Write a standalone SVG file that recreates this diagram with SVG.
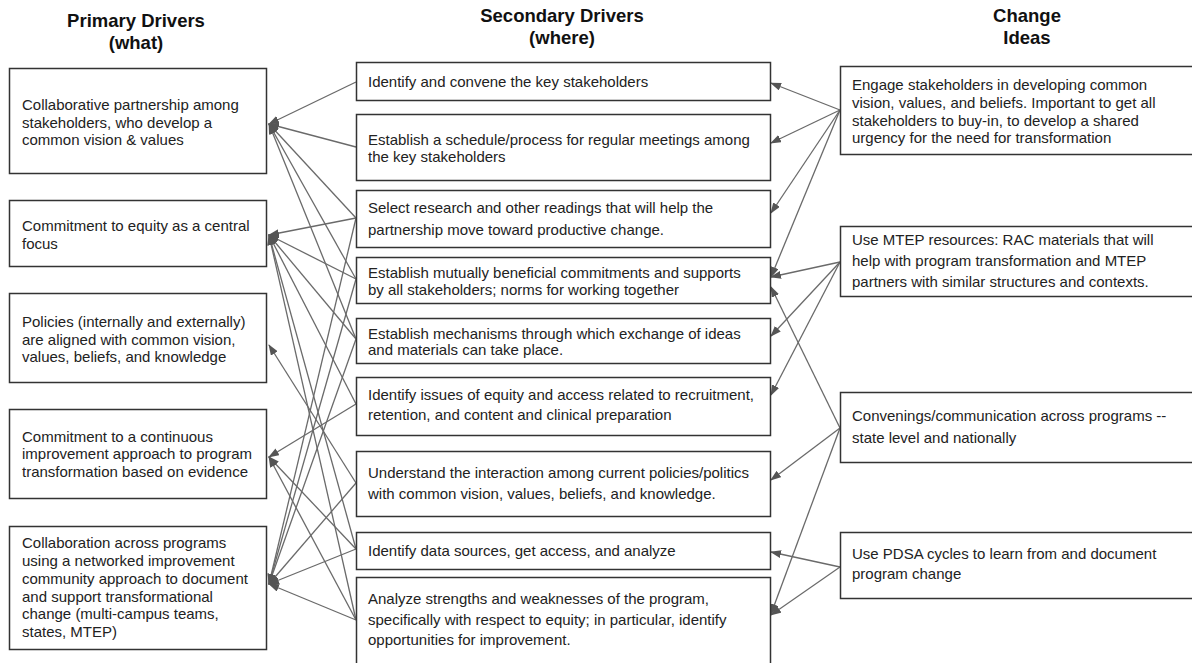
<svg xmlns="http://www.w3.org/2000/svg" width="1192" height="663" viewBox="0 0 1192 663">
<defs>
<marker id="ah" markerUnits="userSpaceOnUse" markerWidth="11" markerHeight="8" refX="10" refY="4" orient="auto">
<path d="M0,0 L11,4 L0,8 z" fill="#555"/>
</marker>
<style>
.box{fill:#fff;stroke:#333;stroke-width:1.5}
.t{font-family:"Liberation Sans",Arial,sans-serif;font-size:15px;fill:#222}
.h{font-family:"Liberation Sans",Arial,sans-serif;font-size:18.5px;font-weight:bold;fill:#111;text-anchor:middle}
.c{stroke:#6a6a6a;stroke-width:1.3;fill:none;marker-end:url(#ah)}
</style>
</defs>
<rect width="1192" height="663" fill="#fff"/>

<g id="headers">
<text class="h" x="136" y="27">Primary Drivers</text>
<text class="h" x="136" y="49">(what)</text>
<text class="h" x="562" y="22">Secondary Drivers</text>
<text class="h" x="562" y="44">(where)</text>
<text class="h" x="1027" y="22">Change</text>
<text class="h" x="1027" y="44">Ideas</text>
</g>

<g id="connectors">
<!-- to L1 -->
<line class="c" x1="356" y1="82" x2="269" y2="124"/>
<line class="c" x1="356" y1="147" x2="269" y2="124"/>
<line class="c" x1="356" y1="218" x2="269" y2="124"/>
<line class="c" x1="356" y1="279" x2="269" y2="124"/>
<line class="c" x1="356" y1="339" x2="269" y2="124"/>
<!-- to L2 -->
<line class="c" x1="356" y1="218" x2="269" y2="235"/>
<line class="c" x1="356" y1="279" x2="269" y2="235"/>
<line class="c" x1="356" y1="339" x2="269" y2="235"/>
<line class="c" x1="356" y1="404" x2="269" y2="235"/>
<line class="c" x1="356" y1="549" x2="269" y2="235"/>
<line class="c" x1="356" y1="620" x2="269" y2="235"/>
<!-- to L3 -->
<line class="c" x1="356" y1="483" x2="269" y2="345"/>
<!-- to L4 -->
<line class="c" x1="356" y1="404" x2="269" y2="457"/>
<line class="c" x1="356" y1="549" x2="269" y2="457"/>
<line class="c" x1="356" y1="620" x2="269" y2="457"/>
<!-- to L5 -->
<line class="c" x1="356" y1="218" x2="269" y2="584"/>
<line class="c" x1="356" y1="279" x2="269" y2="584"/>
<line class="c" x1="356" y1="339" x2="269" y2="584"/>
<line class="c" x1="356" y1="483" x2="269" y2="584"/>
<line class="c" x1="356" y1="549" x2="269" y2="584"/>
<line class="c" x1="356" y1="620" x2="269" y2="584"/>
<!-- right side -->
<line class="c" x1="840" y1="110" x2="771" y2="83"/>
<line class="c" x1="840" y1="110" x2="771" y2="143"/>
<line class="c" x1="840" y1="110" x2="771" y2="213"/>
<line class="c" x1="840" y1="110" x2="771" y2="277"/>
<line class="c" x1="840" y1="262" x2="771" y2="277"/>
<line class="c" x1="840" y1="262" x2="771" y2="336"/>
<line class="c" x1="840" y1="262" x2="771" y2="395"/>
<line class="c" x1="840" y1="428" x2="771" y2="287"/>
<line class="c" x1="840" y1="428" x2="771" y2="480"/>
<line class="c" x1="840" y1="428" x2="771" y2="614"/>
<line class="c" x1="840" y1="567" x2="771" y2="552"/>
<line class="c" x1="840" y1="567" x2="771" y2="615"/>
</g>

<g id="L1"><rect class="box" x="9.5" y="68.5" width="257" height="105"/>
<text class="t" x="22" y="110">Collaborative partnership among</text>
<text class="t" x="22" y="127.5">stakeholders, who develop a</text>
<text class="t" x="22" y="145">common vision &amp; values</text></g>

<g id="L2"><rect class="box" x="9.5" y="200.5" width="257" height="66"/>
<text class="t" x="22" y="231">Commitment to equity as a central</text>
<text class="t" x="22" y="248.5">focus</text></g>

<g id="L3"><rect class="box" x="9.5" y="293.5" width="257" height="89"/>
<text class="t" x="22" y="327">Policies (internally and externally)</text>
<text class="t" x="22" y="344.5">are aligned with common vision,</text>
<text class="t" x="22" y="362">values, beliefs, and knowledge</text></g>

<g id="L4"><rect class="box" x="9.5" y="409.5" width="257" height="89"/>
<text class="t" x="22" y="441.5">Commitment to a continuous</text>
<text class="t" x="22" y="459">improvement approach to program</text>
<text class="t" x="22" y="477">transformation based on evidence</text></g>

<g id="L5"><rect class="box" x="9.5" y="526.5" width="257" height="123"/>
<text class="t" x="22" y="548">Collaboration across programs</text>
<text class="t" x="22" y="566">using a networked improvement</text>
<text class="t" x="22" y="584">community approach to document</text>
<text class="t" x="22" y="601.5">and support transformational</text>
<text class="t" x="22" y="619">change (multi-campus teams,</text>
<text class="t" x="22" y="637">states, MTEP)</text></g>

<g id="M1"><rect class="box" x="356.5" y="62.5" width="414" height="38"/>
<text class="t" x="368" y="87">Identify and convene the key stakeholders</text></g>

<g id="M2"><rect class="box" x="356.5" y="114.5" width="414" height="66"/>
<text class="t" x="368" y="145">Establish a schedule/process for regular meetings among</text>
<text class="t" x="368" y="162">the key stakeholders</text></g>

<g id="M3"><rect class="box" x="356.5" y="190.5" width="414" height="57"/>
<text class="t" x="368" y="213">Select research and other readings that will help the</text>
<text class="t" x="368" y="235">partnership move toward productive change.</text></g>

<g id="M4"><rect class="box" x="356.5" y="257.5" width="414" height="46"/>
<text class="t" x="368" y="278">Establish mutually beneficial commitments and supports</text>
<text class="t" x="368" y="295">by all stakeholders; norms for working together</text></g>

<g id="M5"><rect class="box" x="356.5" y="318.5" width="414" height="45"/>
<text class="t" x="368" y="339">Establish mechanisms through which exchange of ideas</text>
<text class="t" x="368" y="355">and materials can take place.</text></g>

<g id="M6"><rect class="box" x="356.5" y="377.5" width="414" height="58"/>
<text class="t" x="368" y="400">Identify issues of equity and access related to recruitment,</text>
<text class="t" x="368" y="420">retention, and content and clinical preparation</text></g>

<g id="M7"><rect class="box" x="356.5" y="451.5" width="414" height="65"/>
<text class="t" x="368" y="478">Understand the interaction among current policies/politics</text>
<text class="t" x="368" y="499">with common vision, values, beliefs, and knowledge.</text></g>

<g id="M8"><rect class="box" x="356.5" y="532.5" width="414" height="37"/>
<text class="t" x="368" y="556">Identify data sources, get access, and analyze</text></g>

<g id="M9"><rect class="box" x="356.5" y="577.5" width="414" height="95"/>
<text class="t" x="368" y="604">Analyze strengths and weaknesses of the program,</text>
<text class="t" x="368" y="625">specifically with respect to equity; in particular, identify</text>
<text class="t" x="368" y="645">opportunities for improvement.</text></g>

<g id="R1"><rect class="box" x="840.5" y="66.5" width="360" height="88"/>
<text class="t" x="852" y="90">Engage stakeholders in developing common</text>
<text class="t" x="852" y="108">vision, values, and beliefs. Important to get all</text>
<text class="t" x="852" y="125.5">stakeholders to buy-in, to develop a shared</text>
<text class="t" x="852" y="142.5">urgency for the need for transformation</text></g>

<g id="R2"><rect class="box" x="840.5" y="226.5" width="360" height="70"/>
<text class="t" x="852" y="245">Use MTEP resources: RAC materials that will</text>
<text class="t" x="852" y="266">help with program transformation and MTEP</text>
<text class="t" x="852" y="287">partners with similar structures and contexts.</text></g>

<g id="R3"><rect class="box" x="840.5" y="392.5" width="360" height="70"/>
<text class="t" x="852" y="421">Convenings/communication across programs --</text>
<text class="t" x="852" y="443">state level and nationally</text></g>

<g id="R4"><rect class="box" x="840.5" y="532.5" width="360" height="66"/>
<text class="t" x="852" y="559">Use PDSA cycles to learn from and document</text>
<text class="t" x="852" y="579">program change</text></g>
</svg>
